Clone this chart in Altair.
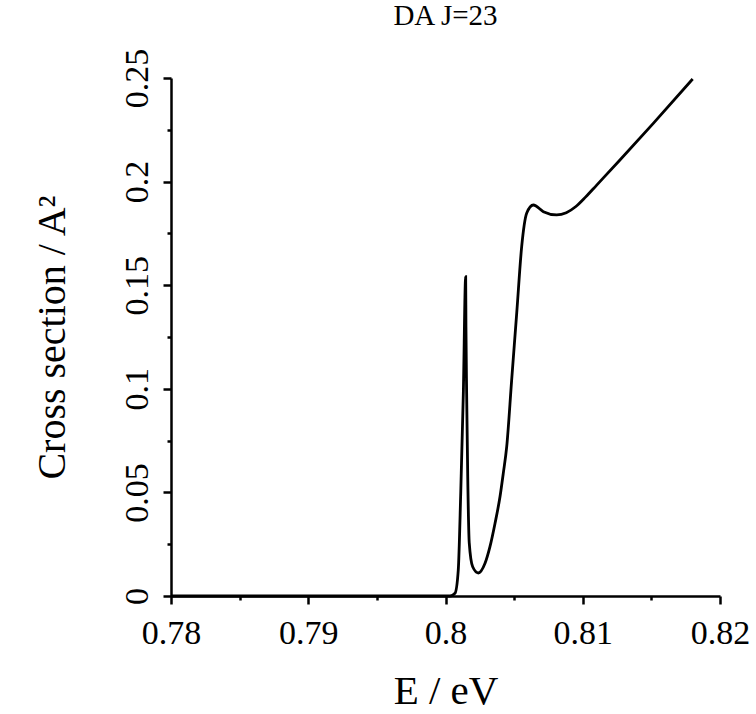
import altair as alt
import pandas as pd

energy = [0.78, 0.79, 0.80, 0.80033, 0.80069, 0.80093, 0.80111, 0.80130, 0.80147,
          0.80149, 0.80154, 0.80162, 0.80173, 0.80198, 0.80239, 0.80288, 0.80324,
          0.80361, 0.80397, 0.80421, 0.80446, 0.80482, 0.80519, 0.80555, 0.80592,
          0.80640, 0.80713, 0.80810, 0.80880, 0.80950, 0.81020, 0.81100, 0.81271,
          0.81514, 0.81801]
cross = [0, 0, 0, 0, 0.0013, 0.0125, 0.0497, 0.0980, 0.1541,
         0.1300, 0.0980, 0.0576, 0.0256, 0.0141, 0.0111, 0.0158, 0.0238,
         0.0351, 0.0479, 0.0592, 0.0721, 0.1042, 0.1366, 0.1686, 0.1848,
         0.1887, 0.1855, 0.1839, 0.1850, 0.1880, 0.1925, 0.1982, 0.2104,
         0.2281, 0.2495]

x_major = [0.78, 0.79, 0.80, 0.81, 0.82]
x_minor = [0.785, 0.795, 0.805, 0.815]
y_major = [0, 0.05, 0.10, 0.15, 0.20, 0.25]
y_minor = [0.025, 0.075, 0.125, 0.175, 0.225]

df = pd.DataFrame({"E": energy, "sigma": cross})

FONT = "Liberation Serif"
W, H = 549, 518

xscale = alt.Scale(domain=[0.78, 0.82], nice=False, zero=False)
yscale = alt.Scale(domain=[0, 0.25], nice=False, zero=False)

base = alt.Chart(df)

main = base.mark_line(color="black", strokeWidth=2.8, interpolate="monotone").encode(
    x=alt.X("E:Q", scale=xscale,
            axis=alt.Axis(values=x_major, format=".2~f", orient="bottom",
                          title="E / eV", titleFontSize=41, titleFont=FONT,
                          titleFontWeight="normal", titleColor="black",
                          titleX=W / 2, titleY=95, titleBaseline="middle",
                          titleAlign="center",
                          labelFontSize=34, labelFont=FONT, labelColor="black",
                          labelPadding=12, labelBaseline="top",
                          tickSize=8, tickWidth=2.5, tickColor="black",
                          domainColor="black", domainWidth=2.5, grid=False,
                          labelFlush=False, labelOverlap=False)),
    y=alt.Y("sigma:Q", scale=yscale,
            axis=alt.Axis(values=y_major, format=".2~f", orient="left",
                          title="Cross section / A²", titleFontSize=40,
                          titleFont=FONT, titleFontWeight="normal",
                          titleColor="black", titleX=-119, titleY=H / 2,
                          titleAngle=270, titleAlign="center",
                          titleBaseline="middle",
                          labelFontSize=34, labelFont=FONT, labelColor="black",
                          labelAngle=270, labelAlign="center",
                          labelBaseline="bottom", labelPadding=9,
                          tickSize=8, tickWidth=2.5, tickColor="black",
                          domainColor="black", domainWidth=2.5, grid=False,
                          labelFlush=False, labelOverlap=False)),
)

minor = base.mark_line(opacity=0).encode(
    x=alt.X("E:Q", scale=xscale,
            axis=alt.Axis(values=x_minor, orient="bottom", labels=False,
                          title=None, tickSize=4, tickWidth=2.5,
                          tickColor="black", domain=False, grid=False)),
    y=alt.Y("sigma:Q", scale=yscale,
            axis=alt.Axis(values=y_minor, orient="left", labels=False,
                          title=None, tickSize=4, tickWidth=2.5,
                          tickColor="black", domain=False, grid=False)),
)

chart = alt.layer(main, minor).resolve_axis(
    x="independent", y="independent"
).properties(
    width=W, height=H,
    title="DA J=23",
    autosize=alt.AutoSizeParams(type="none"),
    padding={"left": 171, "top": 78, "right": 36, "bottom": 118},
).configure(
    background="white"
).configure_view(
    stroke=None
).configure_title(
    fontSize=29, font=FONT, fontWeight="normal", color="black",
    anchor="middle", offset=17, baseline="bottom"
)

chart.save("out.html", embed_options={"renderer": "svg", "actions": False})
